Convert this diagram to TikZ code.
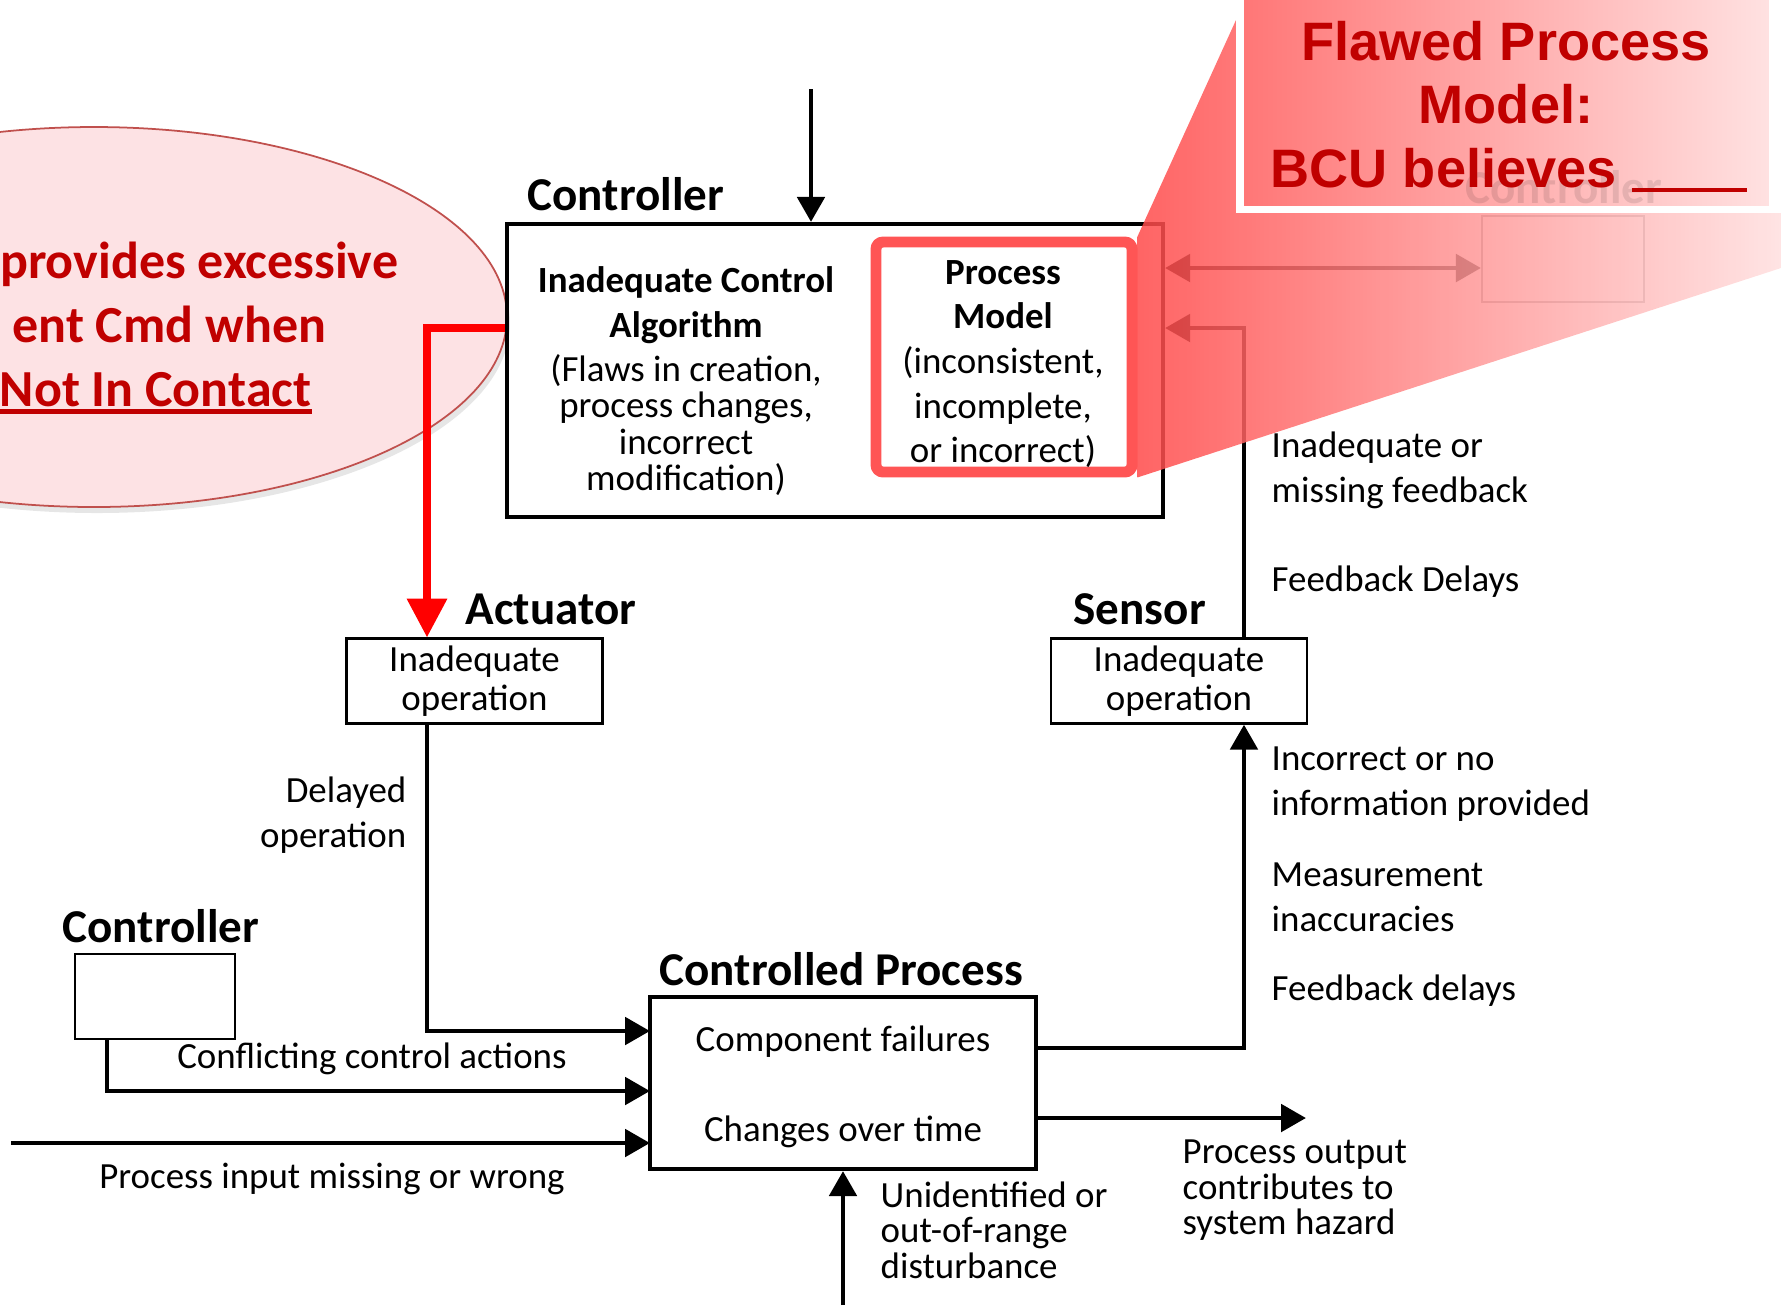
\documentclass[tikz,border=0pt]{standalone}
\usepackage{fontspec}
\setmainfont{Carlito}
\newfontfamily\calloutfont{Liberation Sans}
\usetikzlibrary{arrows.meta,shapes.geometric,shadows}

\definecolor{dkred}{RGB}{192,0,0}
\definecolor{notefill}{RGB}{253,226,228}
\definecolor{noteline}{RGB}{192,80,77}
\definecolor{pmred}{RGB}{255,85,85}
\definecolor{hotred}{RGB}{255,0,0}
\definecolor{wedgeL}{RGB}{255,73,73}
\definecolor{wedgeR}{RGB}{255,223,223}
\definecolor{boxL}{RGB}{255,118,118}
\definecolor{boxR}{RGB}{255,226,226}

\begin{document}
\begin{tikzpicture}[x=0.1mm, y=-0.1mm,
  every node/.style={inner sep=0pt, font=\fontsize{10.5}{12.7}\selectfont},
  hd/.style={anchor=west, font=\fontsize{13.4}{16}\selectfont\bfseries},
  lbl/.style={anchor=west, align=left},
  unit/.style={draw, line width=0.65pt, minimum width=25.6mm, minimum height=8.5mm,
    align=center, font=\fontsize{10.5}{11.3}\selectfont},
  arr/.style={line width=1.4pt, -{Triangle[width=7.7pt,length=7.1pt]}},
  note/.style={anchor=base east, text=dkred, font=\fontsize{14.8}{17}\selectfont\bfseries},
  flaw/.style={text=dkred, font=\calloutfont\fontsize{15.4}{18}\selectfont\bfseries}]
  \useasboundingbox (0,0) rectangle (1781,1305);

  % unsafe control action
  \node[ellipse, draw=noteline, line width=0.5pt, fill=notefill, minimum width=82.6mm, minimum height=38mm,
    drop shadow={opacity=0.2, shadow xshift=0.3mm, shadow yshift=-0.6mm}] (uca) at (94,317) {};
  \node[note] (uca1) at (399,278) {provides excessive};
  \node[note] (uca2) at (327,342) {ent Cmd when};
  \node[note] (uca3) at (312,406) {Not In Contact};
  \draw[dkred, line width=1.3pt] ([yshift=-1.6pt]uca3.base west) -- ([yshift=-1.6pt]uca3.base east);

  % controller
  \node[hd] (ctrlhd) at (527,194) {Controller};
  \node[draw, line width=1.2pt, minimum width=65.6mm, minimum height=29.3mm] (ctrl) at (835,370.5) {};
  \node[align=center, font=\fontsize{10.5}{12.9}\selectfont\bfseries] (alg) at (686,305) {Inadequate Control\\Algorithm};
  \node[align=center, font=\fontsize{10.5}{10.3}\selectfont] (algflaw) at (686,425) {(Flaws in creation,\\process changes,\\incorrect\\modification)};
  \node[draw=pmred, line width=3.1pt, rounded corners=2pt, fill=white, minimum width=25.6mm,
    minimum height=23mm] (pm) at (1004,357) {};
  \node[align=center] (pmtext) at (1003,364) {\textbf{Process}\\\textbf{Model}\\(inconsistent,\\incomplete,\\or incorrect)};

  \node[hd] (acthd) at (465,609) {Actuator};
  \node[unit] (act) at (474.5,681) {Inadequate\\operation};
  \node[hd] (senhd) at (1073,609) {Sensor};
  \node[unit] (sen) at (1179,681) {Inadequate\\operation};

  \node[hd] (prochd) at (659,969) {Controlled Process};
  \node[draw, line width=1.2pt, minimum width=38.6mm, minimum height=17.2mm] (proc) at (843,1083) {};
  \node (fail) at (843,1042) {Component failures};
  \node (drift) at (843,1132) {Changes over time};

  \node[hd] (ctrl2hd) at (62,926) {Controller};
  \node[draw, line width=0.65pt, minimum width=16mm, minimum height=8.5mm] (ctrl2) at (155,996.5) {};

  % connectors
  \coordinate (cin) at (811,89);
  \coordinate (cmd) at (427,328);
  \coordinate (pin1) at (650,1031);
  \coordinate (pin2) at (650,1091);
  \coordinate (pin3) at (650,1143);
  \coordinate (c2) at (107,1091);
  \coordinate (inp) at (11,1143);
  \coordinate (outp) at (1306,1118);
  \coordinate (dist) at (843,1305);
  \coordinate (fb) at (1244,1048);
  \coordinate (fbtop) at (1244,328);

  \draw[arr] (cin) -- (cin |- ctrl.north);
  \draw[arr] (act.south -| cmd) |- (pin1);
  \draw[arr] (ctrl2.south -| c2) |- (pin2);
  \draw[arr] (inp) -- (pin3);
  \draw[arr] (proc.east |- outp) -- (outp);
  \draw[arr] (dist) -- (proc.south);
  \draw[arr] (proc.east |- fb) -| (sen.south -| fb);
  \draw[arr] (sen.north -| fb) |- (ctrl.east |- fbtop);

  \node[anchor=east, align=right, font=\fontsize{10.5}{13}\selectfont] (dly) at (407,815) {Delayed\\operation};
  \node (conf) at (372,1059) {Conflicting control actions};
  \node (miss) at (332,1179) {Process input missing or wrong};
  \node[lbl, font=\fontsize{10.5}{10.1}\selectfont] (haz) at (1182,1190.5) {Process output\\contributes to\\system hazard};
  \node[lbl, font=\fontsize{10.5}{10.1}\selectfont] (dst) at (880,1230) {Unidentified or\\out-of-range\\disturbance};
  \node[lbl] (fb1) at (1271,470.5) {Inadequate or\\missing feedback};
  \node[lbl] (fb2) at (1271,582) {Feedback Delays};
  \node[lbl] (fb3) at (1271,784) {Incorrect or no\\information provided};
  \node[lbl] (fb4) at (1271,897) {Measurement\\inaccuracies};
  \node[lbl] (fb5) at (1271,991) {Feedback delays};

  % peer controller under the callout
  \node[draw=black!45, line width=0.6pt, minimum width=16.2mm, minimum height=8.6mm] (peer) at (1563,259) {};
  \coordinate (peery) at (0,268);
  \draw[line width=1.4pt, {Triangle[width=7.7pt,length=7.1pt]}-{Triangle[width=7.7pt,length=7.1pt]}]
    (ctrl.east |- peery) -- (peer.west |- peery);

  % callout
  \shade[left color=wedgeL, right color=wedgeR, fill opacity=0.85]
    (pm.south east) -- (1781,268) -- (1781,213) -- (1236,213) -- (1236,20) -- (pm.north east) -- cycle;
  \shadedraw[draw=white, line width=2pt, left color=boxL, right color=boxR] (1240,-10) rectangle (1773,209);
  \node[hd, text=black, opacity=0.1] (peerhd) at (1465,187) {Controller};
  \node[flaw, anchor=base] (fpm1) at (1506,60) {Flawed Process};
  \node[flaw, anchor=base] (fpm2) at (1506,123) {Model:};
  \node[flaw, anchor=base west] (fpm3) at (1270,187) {BCU believes \rule[-1.3pt]{11.5mm}{0.9pt}};

  \draw[hotred, line width=2.1pt, -{Triangle[width=11pt,length=11pt]}]
    (ctrl.west |- cmd) -- (cmd) -- (act.north -| cmd);
\end{tikzpicture}
\end{document}
